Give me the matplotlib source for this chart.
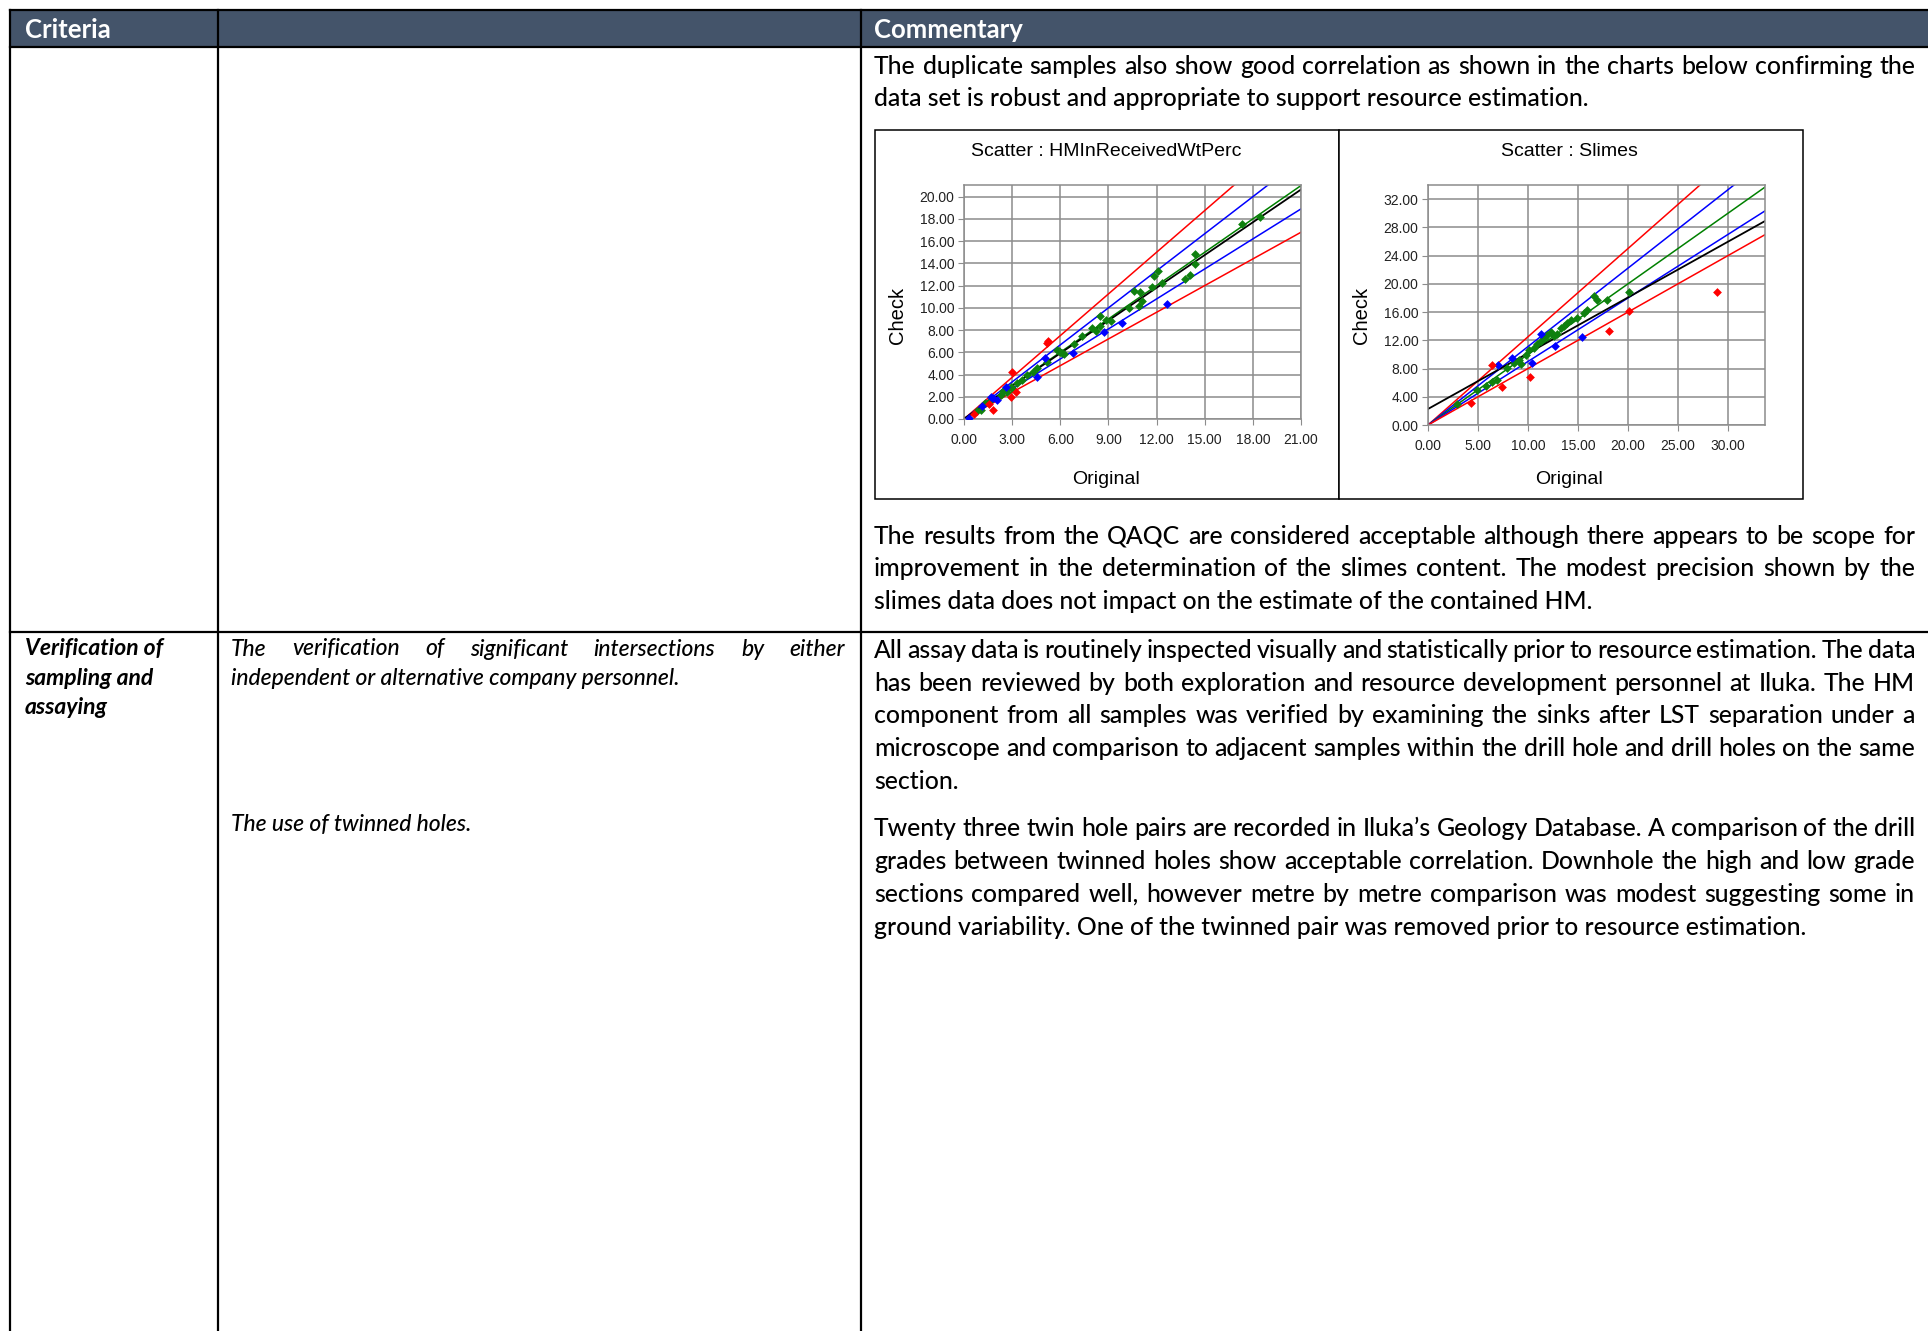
import matplotlib
matplotlib.use('Agg')
import matplotlib.pyplot as plt
import numpy as np

W, H = 1928, 1331

# ---- scatter data : HMInReceivedWtPerc (original, check)
hm_green_x = [0.8, 1.04, 1.3, 1.56, 2.28, 2.4, 2.7, 2.9, 3.0, 3.32, 3.6, 3.94, 4.3, 4.56, 5.19,
              5.8, 5.9, 6.0, 6.1, 6.22, 6.85, 7.37, 8.0, 8.2, 8.5, 8.5, 8.82, 9.17, 10.27,
              10.58, 10.95, 10.9, 11.1, 11.72, 11.83, 12.07, 12.34, 13.8, 14.07, 14.42,
              14.42, 17.32, 18.46]
hm_green_y = [0.7, 0.81, 1.4, 1.56, 2.17, 2.5, 2.47, 2.92, 2.8, 3.22, 3.5, 3.97, 4.2, 4.57, 5.17,
              6.2, 6.1, 6.07, 5.95, 5.83, 6.74, 7.43, 8.18, 7.94, 8.33, 9.23, 8.93, 8.78, 9.98,
              11.49, 11.43, 10.13, 10.65, 11.85, 12.84, 13.35, 12.24, 12.63, 12.99, 13.9,
              14.86, 17.56, 18.17]
hm_blue_x = [0.31, 1.14, 1.66, 1.83, 2.07, 2.59, 4.56, 5.02, 6.78, 8.71, 9.85, 12.66]
hm_blue_y = [0.12, 1.2, 2.0, 1.86, 1.71, 2.92, 3.82, 5.47, 5.92, 7.82, 8.63, 10.35]
hm_red_x = [0.62, 1.56, 1.83, 2.9, 3.0, 3.22, 5.19, 5.23]
hm_red_y = [0.42, 1.32, 0.81, 2.0, 4.27, 2.47, 6.83, 6.98]
hm_fit = (0.02, 0.982)   # intercept, slope

# ---- scatter data : Slimes
sl_green_x = [2.93, 4.93, 5.77, 6.43, 6.93, 7.93, 8.6, 9.1, 9.27, 9.77, 10.1, 10.6, 10.93,
              11.27, 11.6, 11.93, 12.27, 12.6, 12.93, 13.27, 13.6, 13.93, 14.27, 14.93,
              15.6, 15.87, 16.6, 16.87, 17.93, 20.1]
sl_green_y = [2.94, 4.98, 5.59, 6.07, 6.4, 8.06, 8.77, 9.24, 8.63, 9.86, 10.66, 10.9, 11.47,
              11.85, 12.32, 12.7, 13.18, 12.56, 12.89, 13.74, 13.98, 14.45, 14.93, 15.17,
              15.88, 16.35, 18.25, 17.77, 17.77, 18.86]
sl_blue_x = [7.03, 8.43, 10.43, 11.33, 12.67, 15.43]
sl_blue_y = [8.44, 9.48, 8.77, 12.94, 11.14, 12.42]
sl_red_x = [4.27, 6.43, 7.43, 10.2, 18.1, 20.1, 28.93]
sl_red_y = [3.08, 8.44, 5.45, 6.87, 13.27, 16.2, 18.86]
sl_fit = (2.27, 0.79)

# precision envelopes: slope, colour
env_slopes = [1.25, 1 / 0.9, 1.0, 0.9, 0.8]
env_colors = ['#ff0000', '#0000ff', '#008000', '#0000ff', '#ff0000']

# ---- document text
para1 = ["The duplicate samples also show good correlation as shown in the charts below confirming the",
         "data set is robust and appropriate to support resource estimation."]
para2 = ["The results from the QAQC are considered acceptable although there appears to be scope for",
         "improvement in the determination of the slimes content. The modest precision shown by the",
         "slimes data does not impact on the estimate of the contained HM."]
para3 = ["All assay data is routinely inspected visually and statistically prior to resource estimation. The data",
         "has been reviewed by both exploration and resource development personnel at Iluka. The HM",
         "component from all samples was verified by examining the sinks after LST separation under a",
         "microscope and comparison to adjacent samples within the drill hole and drill holes on the same",
         "section."]
para4 = ["Twenty three twin hole pairs are recorded in Iluka\u2019s Geology Database. A comparison of the drill",
         "grades between twinned holes show acceptable correlation. Downhole the high and low grade",
         "sections compared well, however metre by metre comparison was modest suggesting some in",
         "ground variability. One of the twinned pair was removed prior to resource estimation."]
crit_lines = ["Verification of", "sampling and", "assaying"]
guide1 = ["The verification of significant intersections by either",
          "independent or alternative company personnel."]
guide2 = ["The use of twinned holes."]

DOC = 'Lato'
CHART = 'Liberation Sans'

fig = plt.figure(figsize=(W / 100, H / 100), dpi=100)
page = fig.add_axes([0, 0, 1, 1])
page.set_xlim(0, W)
page.set_ylim(H, 0)
page.axis('off')
renderer = fig.canvas.get_renderer()


def width_of(s, size, style='normal', weight='normal'):
    t = page.text(0, 0, s, fontsize=size, family=DOC, style=style, weight=weight)
    w = t.get_window_extent(renderer).width
    t.remove()
    return w


def put_para(lines, x0, x1, y0, step, size, style='normal', weight='normal', justify=True):
    for i, line in enumerate(lines):
        y = y0 + i * step
        last = i == len(lines) - 1
        if not justify or last:
            page.text(x0, y, line, fontsize=size, family=DOC, style=style, weight=weight,
                      va='baseline', ha='left', color='black')
            continue
        sz = size
        words = line.split(' ')
        while True:
            ws = [width_of(w, sz, style, weight) for w in words]
            gap = (x1 - x0 - sum(ws)) / (len(words) - 1)
            if gap >= sz * 0.16 or sz < size * 0.85:
                break
            sz *= 0.99
        x = x0
        for w, wd in zip(words, ws):
            page.text(x, y, w, fontsize=sz, family=DOC, style=style, weight=weight,
                      va='baseline', ha='left', color='black')
            x += wd + gap


# ---- table frame
page.add_patch(plt.Rectangle((10, 10), W - 10, 37, facecolor='#44546A', edgecolor='none', zorder=1))
lw = 1.6
page.plot([10, W], [10, 10], color='black', lw=lw, zorder=2)
page.plot([10, W], [47, 47], color='black', lw=lw, zorder=2)
page.plot([10, W], [632, 632], color='black', lw=lw, zorder=2)
for xv in [10, 218, 861]:
    page.plot([xv, xv], [10, H], color='black', lw=lw, zorder=2)

page.text(25, 38.5, 'Criteria', fontsize=18.5, family=DOC, weight='bold', color='white', va='baseline')
page.text(874, 38.5, 'Commentary', fontsize=18.5, family=DOC, weight='bold', color='white', va='baseline')

body = 17.8
bw = 500
put_para(para1, 874, 1915, 74, 32.5, body, weight=bw)
put_para(para2, 874, 1915, 543.5, 32.7, body, weight=bw)
put_para(para3, 874, 1915, 658, 32.7, body, weight=bw)
put_para(para4, 874, 1915, 836.5, 32.7, body, weight=bw)

small = 16.5
put_para(crit_lines, 25, 210, 655.5, 29.5, small, style='italic', weight='bold', justify=False)
put_para(guide1, 231, 845, 655.5, 29.5, small, style='italic', weight=bw)
put_para(guide2, 231, 845, 830.5, 29.5, small, style='italic', weight=bw)

# ---- chart frames
page.add_patch(plt.Rectangle((875, 130), 464, 369, facecolor='white', edgecolor='black', lw=1.1, zorder=2))
page.add_patch(plt.Rectangle((1339, 130), 464, 369, facecolor='white', edgecolor='black', lw=1.1, zorder=2))


def scatter_chart(rect, xlim, ylim, xt, yt, gx, gy, bx, by, rx, ry, fit):
    x0, y0, x1, y1 = rect
    ax = fig.add_axes([x0 / W, 1 - y1 / H, (x1 - x0) / W, (y1 - y0) / H])
    ax.set_xlim(*xlim)
    ax.set_ylim(*ylim)
    ax.set_xticks(xt)
    ax.set_yticks(yt)
    ax.set_xticklabels([f'{v:.2f}' for v in xt])
    ax.set_yticklabels([f'{v:.2f}' for v in yt])
    ax.grid(True, color='#8c8c8c', lw=1.1)
    ax.set_axisbelow(True)
    for s in ax.spines.values():
        s.set_color('#8c8c8c')
        s.set_linewidth(1.1)
    ax.tick_params(length=4, color='#8c8c8c', labelsize=10, pad=3, labelcolor='#222222')
    ax.tick_params(axis='x', pad=6)
    for lab in ax.get_xticklabels() + ax.get_yticklabels():
        lab.set_family(CHART)
    xe = np.array([0, xlim[1]])
    for sl, c in zip(env_slopes, env_colors):
        ax.plot(xe, sl * xe, color=c, lw=1.1, zorder=2)
    ax.plot(xe, fit[0] + fit[1] * xe, color='black', lw=1.3, zorder=2)
    ax.scatter(gx, gy, marker='D', s=20, color='#0f800f', zorder=3, lw=0)
    ax.scatter(bx, by, marker='D', s=20, color='#0000ff', zorder=3, lw=0)
    ax.scatter(rx, ry, marker='D', s=20, color='#ff0000', zorder=3, lw=0)
    return ax


scatter_chart((964, 185, 1301, 419), (0, 21), (0, 21.05), np.arange(0, 22, 3), np.arange(0, 21, 2),
              hm_green_x, hm_green_y, hm_blue_x, hm_blue_y, hm_red_x, hm_red_y, hm_fit)
scatter_chart((1428, 185, 1765, 425), (0, 33.7), (0, 34), np.arange(0, 31, 5), np.arange(0, 33, 4),
              sl_green_x, sl_green_y, sl_blue_x, sl_blue_y, sl_red_x, sl_red_y, sl_fit)

for cx, title in [(1106, 'Scatter : HMInReceivedWtPerc'), (1569, 'Scatter : Slimes')]:
    page.text(cx, 151, title, fontsize=14, family=CHART, ha='center', va='center', zorder=5)
    page.text(cx, 479, 'Original', fontsize=14, family=CHART, ha='center', va='center', zorder=5)
for cx in [898, 1362]:
    page.text(cx, 315, 'Check', fontsize=14.5, family=CHART, ha='center', va='center',
              rotation=90, zorder=5)

fig.savefig('out.png', dpi=100)
